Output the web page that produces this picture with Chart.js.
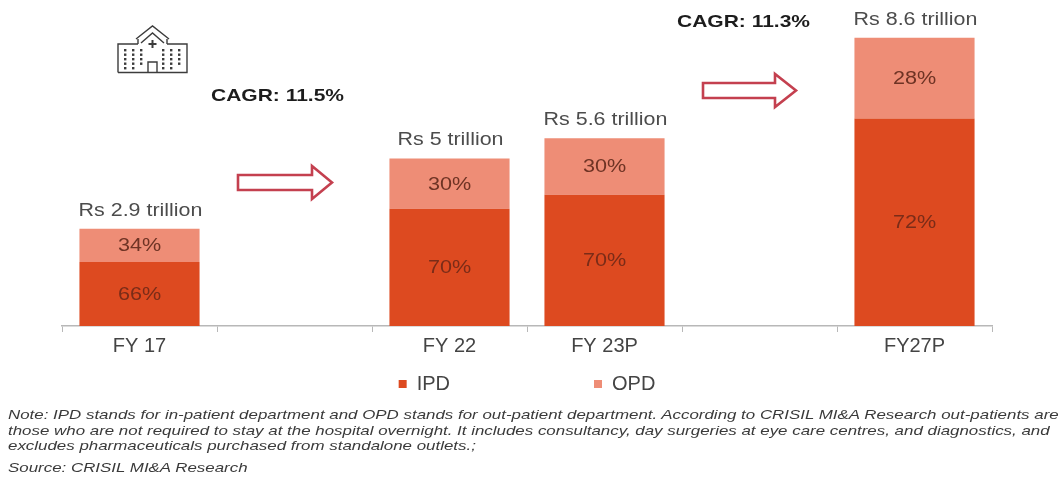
<!DOCTYPE html>
<html><head><meta charset="utf-8">
<script src="https://cdn.jsdelivr.net/npm/chart.js@4"></script>
<style>
html,body{margin:0;padding:0;background:#fff;}
#wrap{position:relative;width:1062px;height:478px;overflow:hidden;font-family:"Liberation Sans",Arial,sans-serif;filter:blur(0.55px);}
canvas{position:absolute;left:0;top:0;}
.t{position:absolute;white-space:nowrap;line-height:1;transform-origin:left top;}
.cagr{font-weight:bold;font-size:17px;color:#1c1c1c;transform:scaleX(1.235);}
.note{font-style:italic;font-size:13.5px;color:#3a3a3a;transform:scaleX(1.252);}
svg{position:absolute;left:0;top:0;}
</style></head>
<body>
<div id="wrap">
<canvas id="c" width="1062" height="478"></canvas>
<svg width="1062" height="478" fill="none">
 <g stroke="#c4404f" stroke-width="2.6" stroke-linejoin="miter">
  <path d="M238 175H312V166L332 182.5L312 199V190H238Z"/>
  <path d="M703 83H775V74L796 90.5L775 107V98H703Z"/>
 </g>
 <g stroke="#3c3c3c" stroke-width="1.4">
  <path d="M118 72.5V44H138M167 44H187V72.5H118"/>
  <path d="M136 39L152.5 26L169 39M141 43L152.5 33L164 43M138 39V44M167 39V44"/>
  <path d="M148 72V62H157V72"/>
 </g>
 <g fill="#3c3c3c">
  <path d="M151.5 40h2v3h3v2h-3v3h-2v-3h-3v-2h3z"/>
  <g id="d">
   <rect x="124" y="49" width="2.4" height="2.4"/><rect x="124" y="53.5" width="2.4" height="2.4"/><rect x="124" y="58" width="2.4" height="2.4"/><rect x="124" y="62.5" width="2.4" height="2.4"/><rect x="124" y="67" width="2.4" height="2.4"/>
   <rect x="132" y="49" width="2.4" height="2.4"/><rect x="132" y="53.5" width="2.4" height="2.4"/><rect x="132" y="58" width="2.4" height="2.4"/><rect x="132" y="62.5" width="2.4" height="2.4"/><rect x="132" y="67" width="2.4" height="2.4"/>
   <rect x="140" y="49" width="2.4" height="2.4"/><rect x="140" y="53.5" width="2.4" height="2.4"/><rect x="140" y="58" width="2.4" height="2.4"/><rect x="140" y="62.5" width="2.4" height="2.4"/>
  </g>
  <use href="#d" x="38"/>
 </g>
</svg>
<div class="t cagr" style="left:211px;top:87px">CAGR: 11.5%</div>
<div class="t cagr" style="left:677px;top:13px">CAGR: 11.3%</div>
<div class="t note" style="left:8px;top:408px">Note: IPD stands for in-patient department and OPD stands for out-patient department. According to CRISIL MI&amp;A Research out-patients are</div>
<div class="t note" style="left:8px;top:424px">those who are not required to stay at the hospital overnight. It includes consultancy, day surgeries at eye care centres, and diagnostics, and</div>
<div class="t note" style="left:8px;top:439px">excludes pharmaceuticals purchased from standalone outlets.;</div>
<div class="t note" style="left:8px;top:461px">Source: CRISIL MI&amp;A Research</div>
</div>
<script>
const categories = ["FY 17", "", "FY 22", "FY 23P", "", "FY27P"];
const totalLabels = ["Rs 2.9 trillion", "", "Rs 5 trillion", "Rs 5.6 trillion", "", "Rs 8.6 trillion"];
const ipdValues = [1.91, null, 3.5, 3.92, null, 6.19];
const opdValues = [0.99, null, 1.5, 1.68, null, 2.41];
const ipdLabels = ["66%", "", "70%", "70%", "", "72%"];
const opdLabels = ["34%", "", "30%", "30%", "", "28%"];
const FONT = '"Liberation Sans", Arial, sans-serif';

function wideText(ctx, text, x, y, sx) {
  ctx.save();
  ctx.translate(x, y);
  ctx.scale(sx, 1);
  ctx.fillText(text, 0, 0);
  ctx.restore();
}

const labelPlugin = {
  id: 'labelPlugin',
  afterDatasetsDraw(chart) {
    const ctx = chart.ctx;
    const ipdMeta = chart.getDatasetMeta(0), opdMeta = chart.getDatasetMeta(1);
    ctx.save();
    ctx.textAlign = 'center';
    ctx.textBaseline = 'middle';
    categories.forEach((c, i) => {
      if (ipdValues[i] == null) return;
      const a = ipdMeta.data[i], b = opdMeta.data[i];
      ctx.font = '18px ' + FONT;
      ctx.fillStyle = '#7a2c18';
      wideText(ctx, ipdLabels[i], a.x, (a.y + a.base) / 2 + 1, 1.2);
      ctx.fillStyle = '#6e3324';
      wideText(ctx, opdLabels[i], b.x, (b.y + b.base) / 2 + 1, 1.2);
      ctx.fillStyle = '#4c4c4c';
      wideText(ctx, totalLabels[i], b.x + 1, b.y - 18, 1.19);
    });
    ctx.restore();
  }
};

new Chart(document.getElementById('c'), {
  type: 'bar',
  data: {
    labels: categories,
    datasets: [
      { label: 'IPD', data: ipdValues, backgroundColor: '#dd4a20', stack: 's' },
      { label: 'OPD', data: opdValues, backgroundColor: '#ee8d76', stack: 's' }
    ]
  },
  options: {
    responsive: false,
    animation: false,
    layout: { padding: { left: 62, right: 70, top: 0, bottom: 74 } },
    datasets: { bar: { barPercentage: 0.775, categoryPercentage: 1 } },
    scales: {
      x: {
        stacked: true,
        grid: { drawOnChartArea: false, drawTicks: true, tickLength: 6, color: '#b8b8b8' },
        border: { color: '#b8b8b8', width: 1.5 },
        ticks: { color: '#444', font: { family: FONT, size: 20 }, autoSkip: false, maxRotation: 0, padding: 2 }
      },
      y: { stacked: true, display: false, min: 0, max: 9.73 }
    },
    plugins: {
      tooltip: { enabled: false },
      legend: {
        position: 'bottom',
        labels: {
          color: '#444', boxWidth: 8, boxHeight: 8, padding: 14,
          font: { family: FONT, size: 20 },
          generateLabels(chart) {
            return chart.data.datasets.map((d, i) => ({
              text: i === 0 ? d.label + '\u2003\u2003\u2003\u2003\u2003\u2003\u2002' : d.label,
              fillStyle: d.backgroundColor, strokeStyle: d.backgroundColor, lineWidth: 0,
              datasetIndex: i, fontColor: '#444'
            }));
          }
        }
      }
    }
  },
  plugins: [labelPlugin]
});
</script>
</body></html>
